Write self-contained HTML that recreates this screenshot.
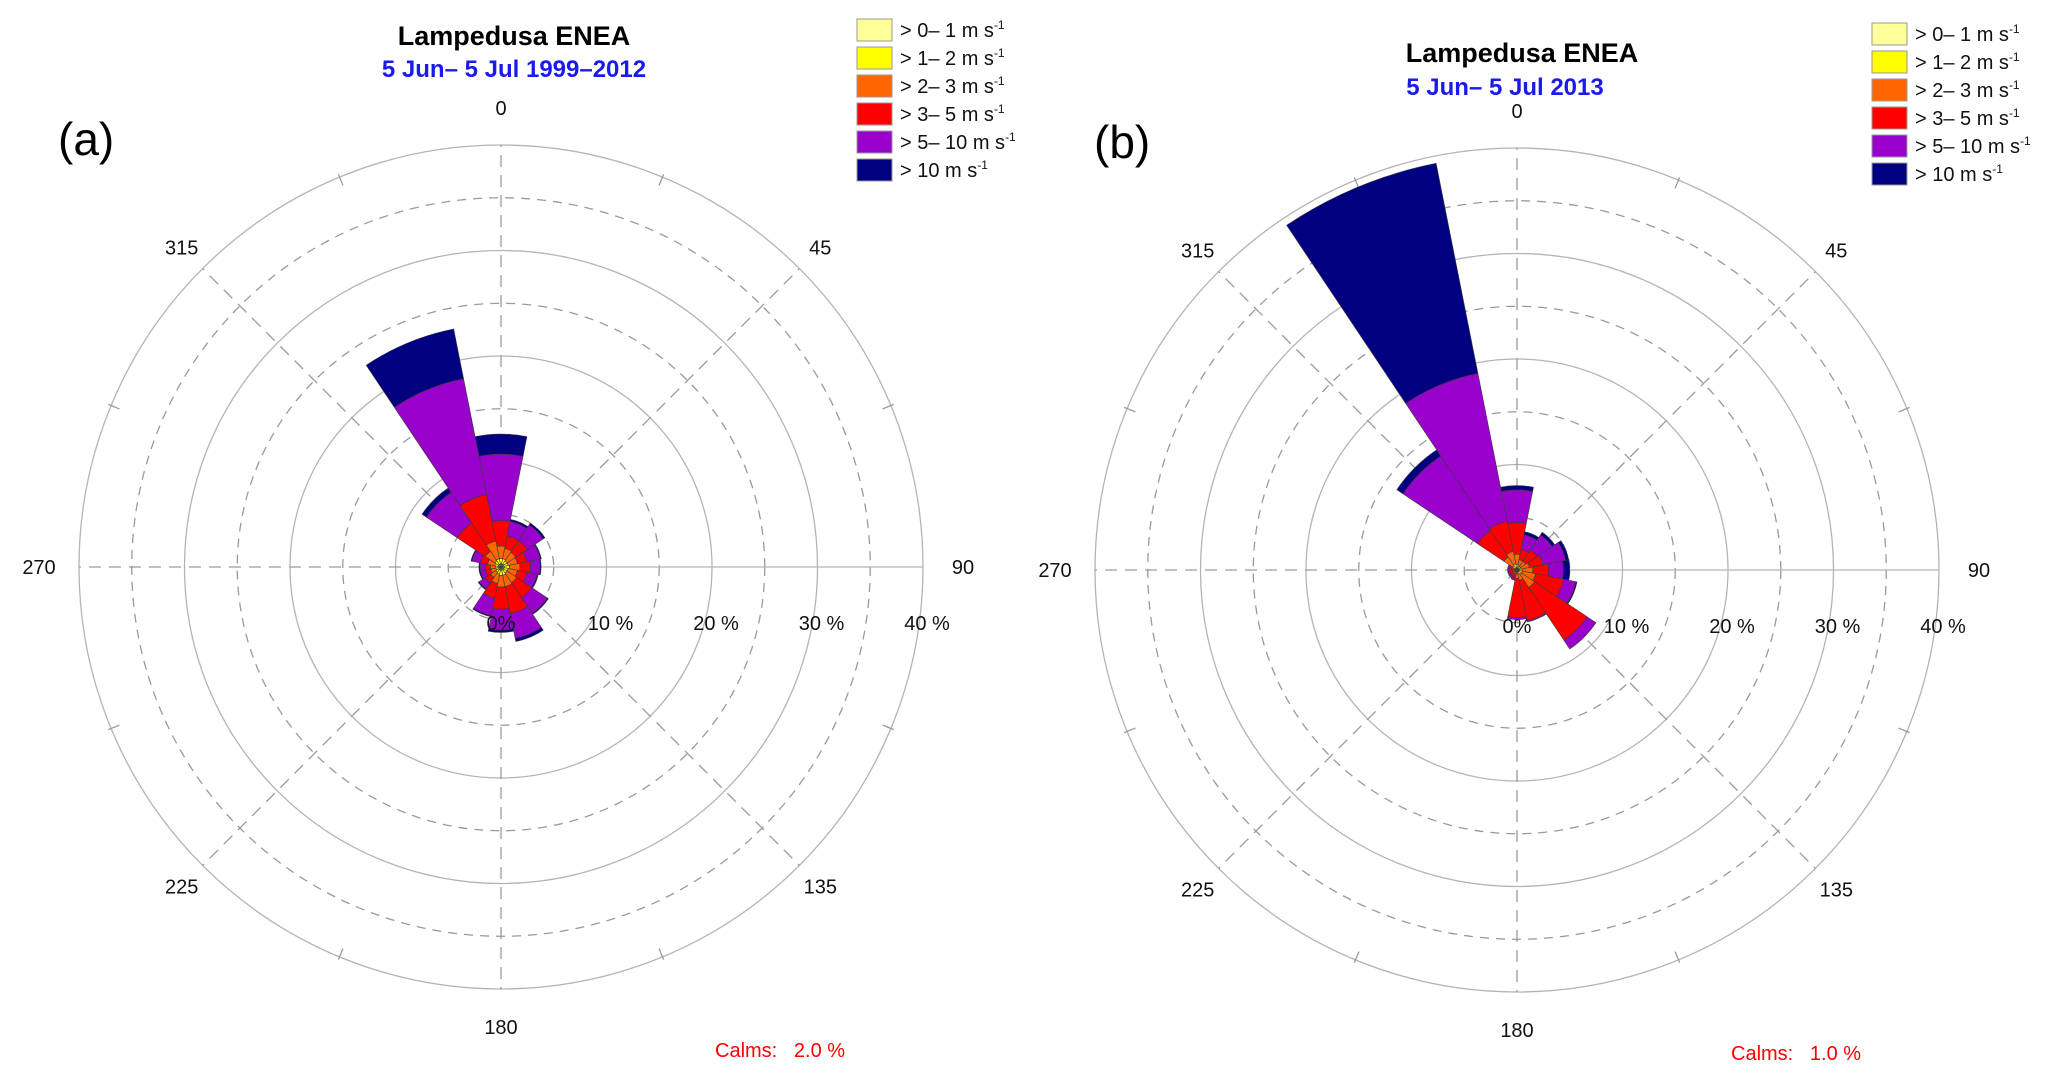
<!DOCTYPE html>
<html><head><meta charset="utf-8">
<style>
html,body{margin:0;padding:0;background:#fff;}
svg{display:block;font-family:"Liberation Sans",Arial,sans-serif;}
</style></head>
<body>
<svg id="fig" width="2067" height="1079" viewBox="0 0 2067 1079" xmlns="http://www.w3.org/2000/svg"></svg>
<script>
// ---- data ----
const directions = [0,22.5,45,67.5,90,112.5,135,157.5,180,202.5,225,247.5,270,292.5,315,337.5];
const speedClasses = ["> 0\u2013 1 m s", "> 1\u2013 2 m s", "> 2\u2013 3 m s", "> 3\u2013 5 m s", "> 5\u2013 10 m s", "> 10 m s"];
const classColors = ["#ffff99","#ffff00","#ff6600","#ff0000","#9900cc","#000080"];
const radialTicks = [10,20,30,40];
const dirLabels = [0,45,90,135,180,225,270,315];

// panel (a) 1999-2012: per speed class percentage per direction
const a_c1 = [0.3,0.3,0.3,0.3,0.3,0.3,0.3,0.3,0.3,0.3,0.3,0.2,0.2,0.3,0.3,0.3];
const a_c2 = [0.5,0.5,0.4,0.4,0.5,0.4,0.4,0.5,0.5,0.4,0.3,0.3,0.3,0.3,0.4,0.5];
const a_c3 = [1.2,1.0,1.0,0.9,1.0,0.9,1.1,1.1,1.1,0.9,0.6,0.5,0.5,0.7,1.1,1.7];
const a_c4 = [2.4,1.2,1.3,0.9,1.0,0.9,1.7,2.6,2.1,1.4,0.6,0.5,0.5,0.7,3.2,4.5];
const a_c5 = [6.3,1.4,1.8,1.3,0.9,1.0,1.8,2.4,2.0,1.7,0.7,0.5,0.5,0.8,3.5,11.2];
const a_c6 = [1.9,0.2,0.2,0.1,0.1,0.1,0.1,0.3,0.2,0.1,0.1,0.1,0.1,0.1,0.5,4.8];
const a_calms = 2.0;

// panel (b) 2013
const b_c1 = [0.2,0.2,0.2,0.2,0.2,0.2,0.2,0.2,0.1,0.1,0.1,0.1,0.1,0.1,0.2,0.2];
const b_c2 = [0.3,0.2,0.2,0.2,0.3,0.3,0.3,0.2,0.2,0.1,0.1,0.1,0.1,0.1,0.3,0.4];
const b_c3 = [1.0,0.6,0.6,0.8,1.0,1.3,1.5,0.6,0.5,0.2,0.2,0.2,0.2,0.2,1.0,1.2];
const b_c4 = [3.0,1.0,1.3,1.3,1.5,2.7,6.0,3.9,3.7,0.4,0.3,0.3,0.3,0.3,3.0,2.9];
const b_c5 = [3.1,1.4,1.7,2.2,1.4,1.2,1.0,0.1,0.2,0.2,0.2,0.2,0.2,0.2,8.5,14.3];
const b_c6 = [0.4,0.3,0.3,0.3,0.6,0.1,0.0,0.0,0.0,0.0,0.0,0.0,0.0,0.0,0.7,20.3];
const b_calms = 1.0;

const NS = "http://www.w3.org/2000/svg";
const svg = document.getElementById('fig');
function el(tag, attrs, parent){
  const e = document.createElementNS(NS, tag);
  for (const k in attrs) e.setAttribute(k, attrs[k]);
  (parent||svg).appendChild(e);
  return e;
}
const PX_PER_PCT = 10.55;
function rScale(p){ return p*PX_PER_PCT; }
function pt(cx,cy,r,deg){ const t=deg*Math.PI/180; return [cx+r*Math.sin(t), cy-r*Math.cos(t)]; }

function drawPanel(o){
  const g = el('g',{});
  
  
  const cx=o.cx, cy=o.cy, R=rScale(40);
  for (let p=5;p<=40;p+=5){
    const c = el('circle',{cx:cx,cy:cy,r:rScale(p),fill:'none',stroke:p%10===0?'#b4b4b4':'#9a9a9a','stroke-width':1.3,'stroke-dasharray':p%10===0?'none':'9,7'},g);
    
    
  }
  for (let d=0; d<360; d+=45){
    const [x2,y2]=pt(cx,cy,R,d);
    const solid = (d===90);
    const l = el('line',{x1:cx,y1:cy,x2:x2,y2:y2,stroke:solid?'#b4b4b4':'#9a9a9a','stroke-width':1.3,'stroke-dasharray':solid?'none':'12,8'},g);
    
    
  }
  for (let d=22.5; d<360; d+=45){
    const [x1,y1]=pt(cx,cy,R-9,d), [x2,y2]=pt(cx,cy,R+3,d);
    const t = el('line',{x1:x1,y1:y1,x2:x2,y2:y2,stroke:'#9a9a9a','stroke-width':1.3},g);
    
    
  }
  const series=o.series, half=11.25;
  for (let i=0;i<directions.length;i++){
    let base=0;
    for (let k=0;k<series.length;k++){
      const v=series[k][i]; if(v<=0){continue;}
      const r0=rScale(base), r1=rScale(base+v); base+=v;
      const a0=directions[i]-half, a1=directions[i]+half;
      const [p1x,p1y]=pt(cx,cy,r1,a0),[p2x,p2y]=pt(cx,cy,r1,a1),[p3x,p3y]=pt(cx,cy,r0,a1),[p4x,p4y]=pt(cx,cy,r0,a0);
      const d=`M${p1x},${p1y} A${r1},${r1} 0 0 1 ${p2x},${p2y} L${p3x},${p3y} A${r0},${r0} 0 0 0 ${p4x},${p4y} Z`;
      const w = el('path',{d:d,fill:classColors[k],stroke:'#3a3a3a','stroke-width':0.6},g);
      
      
    }
  }
  for (const d of dirLabels){
    const [x,y]=pt(cx,cy,R+(d%90===0?40:0),d);
    let lx=x,ly=y;
    if (d%90!==0){ const q=pt(cx,cy,R*1.0,d); lx=cx+(q[0]-cx)*1.07; ly=cy+(q[1]-cy)*1.07; }
    if (d===0) ly=cy-R-37;
    if (d===180) ly=cy+R+38;
    const t = el('text',{x:lx,y:ly+7,'font-size':20,'text-anchor':'middle',fill:'#111'},g);
    t.textContent=String(d);
    
    
  }
  const pl = el('text',{x:cx,y:cy+63,'font-size':20,'text-anchor':'middle',fill:'#111'},g);
  pl.textContent='0%';
  
  
  for (const p of radialTicks){
    const t = el('text',{x:cx+rScale(p)+4,y:cy+63,'font-size':20,'text-anchor':'middle',fill:'#111'},g);
    t.textContent=p+' %';
    
    
  }
  const t1 = el('text',{x:o.tx,y:o.ty,'font-size':27,'font-weight':'bold','text-anchor':'middle',fill:'#000'},g);
  t1.textContent='Lampedusa ENEA';
  
  
  const t2 = el('text',{x:o.sx,y:o.sy,'font-size':24,'font-weight':'bold','text-anchor':'middle',fill:'#1a1aee'},g);
  t2.textContent=o.subtitle;
  
  
  const pn = el('text',{x:o.px,y:o.py,'font-size':46,fill:'#000'},g);
  pn.textContent=o.panel;
  
  
  const cm = el('text',{x:o.calx,y:o.caly,'font-size':20,fill:'#ff0000'},g);
  cm.textContent='Calms:\u00a0\u00a0\u00a0'+o.calms.toFixed(1)+' %';
  
  
  for (let k=0;k<speedClasses.length;k++){
    const y=o.ly+k*28;
    const b = el('rect',{x:o.lx,y:y,width:35,height:22,fill:classColors[k],stroke:'#999','stroke-width':1},g);
    
    
    const t = el('text',{x:o.lx+43,y:y+18,'font-size':20,fill:'#111'},g);
    t.textContent=speedClasses[k];
    const sup = el('tspan',{dy:-8,'font-size':12},t);
    sup.textContent='-1';
    
    
  }
}

drawPanel({name:'wind-rose-a',cx:501,cy:567,series:[a_c1,a_c2,a_c3,a_c4,a_c5,a_c6],
  tx:514,ty:45,sx:514,sy:77,subtitle:'5 Jun\u2013 5 Jul 1999\u20132012',panel:'(a)',px:58,py:155,
  calms:a_calms,calx:715,caly:1057,lx:857,ly:19});
drawPanel({name:'wind-rose-b',cx:1517,cy:570,series:[b_c1,b_c2,b_c3,b_c4,b_c5,b_c6],
  tx:1522,ty:62,sx:1505,sy:95,subtitle:'5 Jun\u2013 5 Jul 2013',panel:'(b)',px:1094,py:158,
  calms:b_calms,calx:1731,caly:1060,lx:1872,ly:23});
</script>
</body></html>
